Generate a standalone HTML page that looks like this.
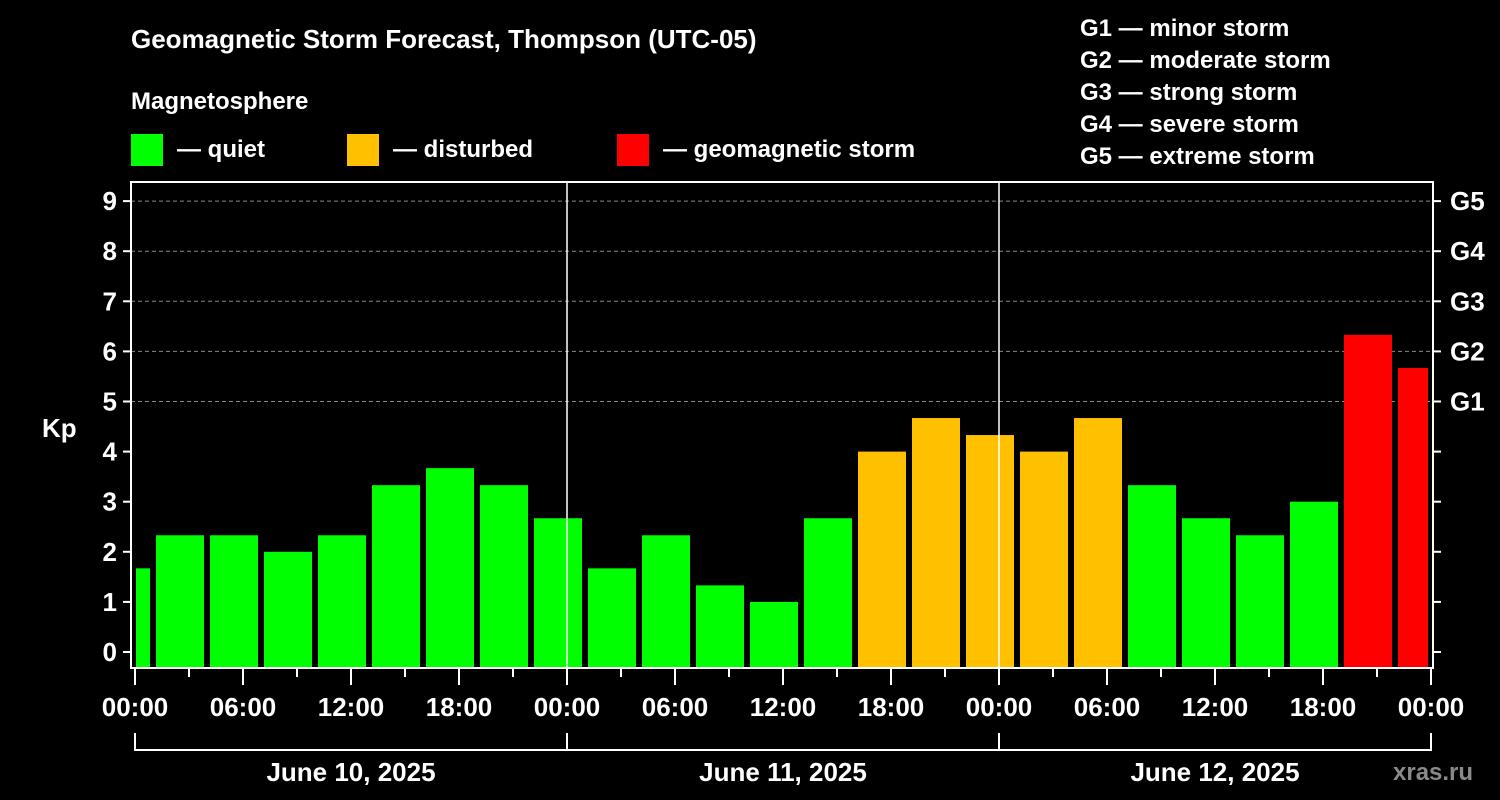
<!DOCTYPE html>
<html><head><meta charset="utf-8"><style>
html,body{margin:0;padding:0;background:#000;width:1500px;height:800px;overflow:hidden}
svg text{font-family:"Liberation Sans",Arial,sans-serif;font-weight:bold;fill:#fff}
</style></head><body>
<svg id="c" width="1500" height="800" xmlns="http://www.w3.org/2000/svg">
<text x="131" y="48" font-size="26">Geomagnetic Storm Forecast, Thompson (UTC-05)</text>
<text x="131" y="109" font-size="24">Magnetosphere</text>
<rect x="131" y="134" width="32" height="32" fill="#00ff00"/>
<text x="177" y="157" font-size="24">— quiet</text>
<rect x="347" y="134" width="32" height="32" fill="#ffc000"/>
<text x="393" y="157" font-size="24">— disturbed</text>
<rect x="617" y="134" width="32" height="32" fill="#ff0000"/>
<text x="663" y="157" font-size="24">— geomagnetic storm</text>
<g font-size="24">
<text x="1080" y="36">G1 — minor storm</text>
<text x="1080" y="68">G2 — moderate storm</text>
<text x="1080" y="100">G3 — strong storm</text>
<text x="1080" y="132">G4 — severe storm</text>
<text x="1080" y="164">G5 — extreme storm</text>
</g>
<text x="42" y="437" font-size="26">Kp</text>
<text x="1393" y="780" font-size="24" fill="#888" style="fill:#8a8a8a">xras.ru</text>
<g id="grid"></g><g id="bars"></g><g id="axes"></g>
</svg>
<script>
const kpValues=[1.67,2.33,2.33,2.0,2.33,3.33,3.67,3.33,2.67,1.67,2.33,1.33,1.0,2.67,4.0,4.67,4.33,4.0,4.67,3.33,2.67,2.33,3.0,6.33,5.67];
const firstBinStartHour=-2; // local hours from June 10 00:00
const binHours=3;
const yTicks=[0,1,2,3,4,5,6,7,8,9];
const gLabels=["G1","G2","G3","G4","G5"];
const gLevels=[5,6,7,8,9];
const xTickLabels=["00:00","06:00","12:00","18:00","00:00","06:00","12:00","18:00","00:00","06:00","12:00","18:00","00:00"];
const dateLabels=["June 10, 2025","June 11, 2025","June 12, 2025"];
const NS="http://www.w3.org/2000/svg";
const L=131,R=1433,T=182,B=668,X0=135,PXH=18;
const y=v=>652-v*50.1;
const x=h=>X0+h*PXH;
function mk(tag,attrs,parent,txt){const e=document.createElementNS(NS,tag);for(const k in attrs)e.setAttribute(k,attrs[k]);if(txt!==undefined)e.textContent=txt;parent.appendChild(e);return e;}
const grid=document.getElementById('grid'),bars=document.getElementById('bars'),axes=document.getElementById('axes');
yTicks.forEach(v=>{if(v>=5){const g=mk('line',{x1:L,x2:R,y1:y(v),y2:y(v),stroke:'#888','stroke-dasharray':'4 3','stroke-width':1},grid);

}});
const cmin=X0+1,cmax=x(72)-3;
kpValues.forEach((v,i)=>{const h0=firstBinStartHour+i*binHours;let a=x(h0)+3,b=x(h0+binHours)-3;a=Math.max(a,cmin);b=Math.min(b,cmax);
const col=v>=5?'#ff0000':(v>=4?'#ffc000':'#00ff00');
const r=mk('rect',{x:a,y:y(v),width:b-a,height:B-y(v),fill:col},bars);

});
[1,2].forEach(d=>{const l=mk('line',{x1:x(24*d),x2:x(24*d),y1:T,y2:B,stroke:'#fff','stroke-width':1.5},axes);

});
const fr=mk('rect',{x:L,y:T,width:R-L,height:B-T,fill:'none',stroke:'#fff','stroke-width':2},axes);


yTicks.forEach(v=>{mk('line',{x1:L-8,x2:L,y1:y(v),y2:y(v),stroke:'#fff','stroke-width':2},axes);
mk('line',{x1:R,x2:R+8,y1:y(v),y2:y(v),stroke:'#fff','stroke-width':2},axes);
const t=mk('text',{x:L-14,y:y(v)+9,'font-size':26,'text-anchor':'end'},axes,String(v));

});
gLabels.forEach((g,i)=>{const t=mk('text',{x:1450,y:y(gLevels[i])+9,'font-size':26},axes,g);

});
for(let h=0;h<=72;h+=3){const major=h%6===0;mk('line',{x1:x(h),x2:x(h),y1:B,y2:B+(major?17:9),stroke:'#fff','stroke-width':2},axes);}
xTickLabels.forEach((s,i)=>{const t=mk('text',{x:x(i*6),y:716,'font-size':26,'text-anchor':'middle'},axes,s);

});
const br=mk('path',{d:`M${x(0)} 733V750H${x(72)}V733M${x(24)} 733V750M${x(48)} 733V750`,fill:'none',stroke:'#fff','stroke-width':2},axes);


dateLabels.forEach((s,i)=>{const t=mk('text',{x:x(i*24+12),y:781,'font-size':26,'text-anchor':'middle'},axes,s);

});
</script>
</body></html>
